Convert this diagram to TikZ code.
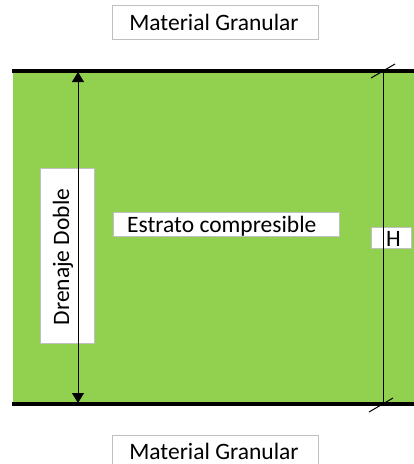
\documentclass[tikz,border=0pt]{standalone}
\usepackage{fontspec}
\setmainfont{Carlito}
\usetikzlibrary{arrows.meta}
\definecolor{stratum}{HTML}{92D050}
\definecolor{boxgray}{HTML}{BFBFBF}
\tikzset{
  lbl/.style={draw=boxgray, line width=1pt, fill=white, inner sep=0pt, font=\fontsize{23}{26}\selectfont, text=black},
  txt/.style={font=\fontsize{23.5}{26}\selectfont, inner sep=0pt, text=black},
  bound/.style={line width=3.2pt, black},
  dim/.style={line width=1pt, black},
}
\begin{document}
\begin{tikzpicture}[x=1pt,y=-1pt]
\useasboundingbox (0,0) rectangle (414,464);
% stratum
\fill[stratum] (13,71) rectangle (414,404);
\coordinate (tl) at (12,71);
\coordinate (tr) at (414,71);
\coordinate (bl) at (12,404);
\coordinate (br) at (414,404);
% labels
\node[lbl, minimum width=206pt, minimum height=34pt] (mg1) at (215,22) {};
\node[txt] (mg1t) at (214,22) {Material Granular};
\node[lbl, minimum width=206pt, minimum height=34pt] (mg2) at (215,452) {};
\node[txt] (mg2t) at (214,451) {Material Granular};
\node[lbl, minimum width=54pt, minimum height=175pt] (dd) at (67,256) {};
\node[txt, rotate=90] (ddt) at (63,257) {Drenaje Doble};
% Estrato box with clipped text
\node[lbl, minimum width=226pt, minimum height=24pt] (ec) at (226,224) {};
\begin{scope}
\clip (113,212) rectangle (339,236);
\node[txt, anchor=base west] (ect) at (127,232) {Estrato compresible};
\end{scope}
\node[lbl, minimum width=40pt, minimum height=21pt] (hb) at (391,238) {};
\node[txt, anchor=base west] (ht) at (386,246) {H};
% arrow (drainage)
\coordinate (at) at (78,72);
\coordinate (ab) at (78,403);
\draw[dim, {Triangle[width=12pt,length=10pt]}-{Triangle[width=12pt,length=10pt]}] (at) -- (ab);
% H dimension
\coordinate (ht1) at (383,71);
\coordinate (hb1) at (383,404);
\draw[dim] (ht1) -- (hb1);
\draw[dim] (371,78) -- (395,64);
\draw[dim] (369,412) -- (393,398);
% boundaries
\draw[bound] (tl) -- (tr);
\draw[bound] (bl) -- (br);
\end{tikzpicture}
\end{document}
